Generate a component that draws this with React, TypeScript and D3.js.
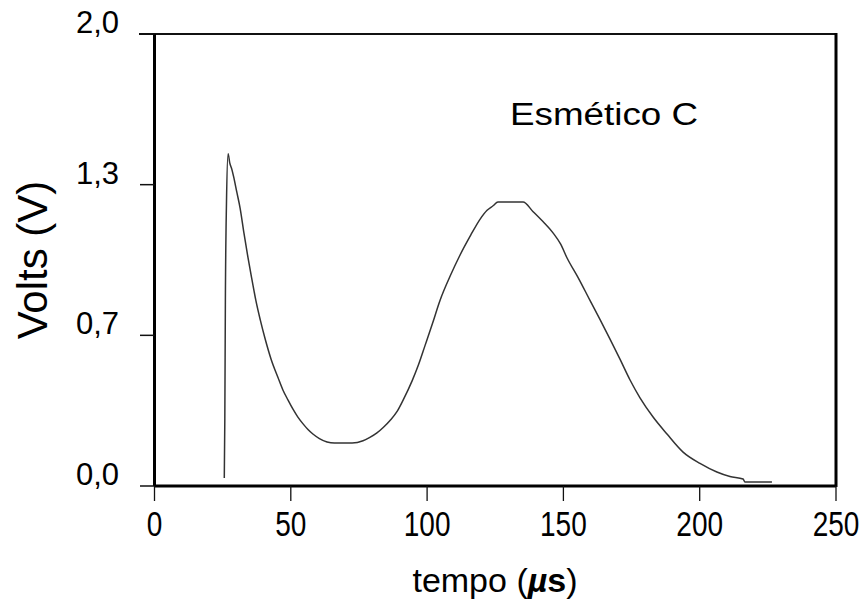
import React from "react";
import * as d3 from "d3";

const timeUs = [25.6, 25.8, 26.0, 26.4, 27.0, 27.6, 28.4, 29.0, 30.2, 31.4, 32.8, 34.3, 35.8, 37.2, 38.8, 40.5, 42.8, 45.3, 47.1, 49.0, 50.8, 52.6, 54.5, 56.3, 58.1, 60.5, 63.3, 66.0, 69.1, 72.5, 76.5, 79.0, 81.6, 84.0, 86.4, 89.0, 91.2, 94.5, 96.8, 99.2, 102.0, 104.7, 108.5, 112.0, 116.0, 119.4, 122.0, 124.2, 126.0, 130.0, 135.2, 138.8, 142.5, 146.2, 149.0, 151.3, 155.5, 159.8, 163.5, 167.1, 170.8, 174.4, 178.1, 182.9, 188.0, 193.9, 200.1, 206.3, 211.1, 215.9, 216.6, 222.0, 226.5];
const voltsV = [0.035, 0.3, 0.82, 1.25, 1.47, 1.43, 1.40, 1.37, 1.30, 1.23, 1.12, 1.01, 0.91, 0.82, 0.735, 0.655, 0.56, 0.48, 0.425, 0.38, 0.34, 0.305, 0.275, 0.25, 0.23, 0.21, 0.195, 0.19, 0.19, 0.19, 0.20, 0.215, 0.235, 0.26, 0.29, 0.33, 0.38, 0.465, 0.535, 0.62, 0.72, 0.82, 0.93, 1.02, 1.11, 1.18, 1.22, 1.24, 1.257, 1.257, 1.257, 1.215, 1.17, 1.12, 1.07, 1.01, 0.92, 0.82, 0.735, 0.65, 0.56, 0.47, 0.39, 0.305, 0.23, 0.15, 0.10, 0.062, 0.042, 0.031, 0.018, 0.018, 0.018];

const xTicks = [0, 50, 100, 150, 200, 250];
const yTickValues = [0, 2 / 3, 4 / 3, 2];
const yTickLabels = ["0,0", "0,7", "1,3", "2,0"];

const font = "'Liberation Sans', Arial, sans-serif";

export default function App() {
  const W = 867, H = 609;
  const left = 154.5, right = 836, top = 34, bottom = 486;
  const x = d3.scaleLinear().domain([0, 250]).range([left, right]);
  const y = d3.scaleLinear().domain([0, 2]).range([bottom, top]);
  const line = d3
    .line<number>()
    .x((_, i) => x(timeUs[i]))
    .y((d) => y(d))
    .curve(d3.curveMonotoneX);
  const path = line(voltsV) || "";

  return (
    <svg width={W} height={H} style={{ position: "absolute", left: 0, top: 0, background: "#fff" }}>
      <rect x={0} y={0} width={W} height={H} fill="#fff" />
      {/* frame */}
      <line x1={139} x2={right + 1} y1={top} y2={top} stroke="#111" strokeWidth={2} />
      <line x1={left} x2={left} y1={top} y2={bottom} stroke="#000" strokeWidth={3} />
      <line x1={right} x2={right} y1={top - 1} y2={bottom + 1} stroke="#000" strokeWidth={3} />
      <line x1={left} x2={right} y1={bottom} y2={bottom} stroke="#000" strokeWidth={3} />
      {/* y ticks */}
      {yTickValues.map((v, i) => (
        <g key={"y" + i}>
          <line x1={140} x2={left} y1={y(v)} y2={y(v)} stroke="#111" strokeWidth={1.5} />
          <text x={119} y={y(v) - 1} textAnchor="end" fontFamily={font} fontSize={31} fill="#000">
            {yTickLabels[i]}
          </text>
        </g>
      ))}
      {/* x ticks */}
      {xTicks.map((t) => (
        <g key={"x" + t}>
          <line x1={x(t)} x2={x(t)} y1={bottom} y2={bottom + 15} stroke="#111" strokeWidth={1.3} />
          <text
            transform={`translate(${x(t)},536) scale(0.8,1)`}
            textAnchor="middle"
            fontFamily={font}
            fontSize={35}
            fill="#000"
          >
            {t}
          </text>
        </g>
      ))}
      {/* curve */}
      <path d={path} fill="none" stroke="#333" strokeWidth={1.5} strokeLinejoin="round" />
      {/* annotation */}
      <text x={510} y={125} fontFamily={font} fontSize={31} fill="#000" textLength={188} lengthAdjust="spacingAndGlyphs">
        Esmético C
      </text>
      {/* axis titles */}
      <text x={495} y={592} textAnchor="middle" fontFamily={font} fontSize={34} fill="#000">
        tempo (<tspan fontWeight="bold" fontStyle="italic">µ</tspan>
        <tspan fontWeight="bold">s</tspan>)
      </text>
      <text
        transform="translate(47,260) rotate(-90)"
        textAnchor="middle"
        fontFamily={font}
        fontSize={42}
        fill="#000"
      >
        Volts (V)
      </text>
    </svg>
  );
}
